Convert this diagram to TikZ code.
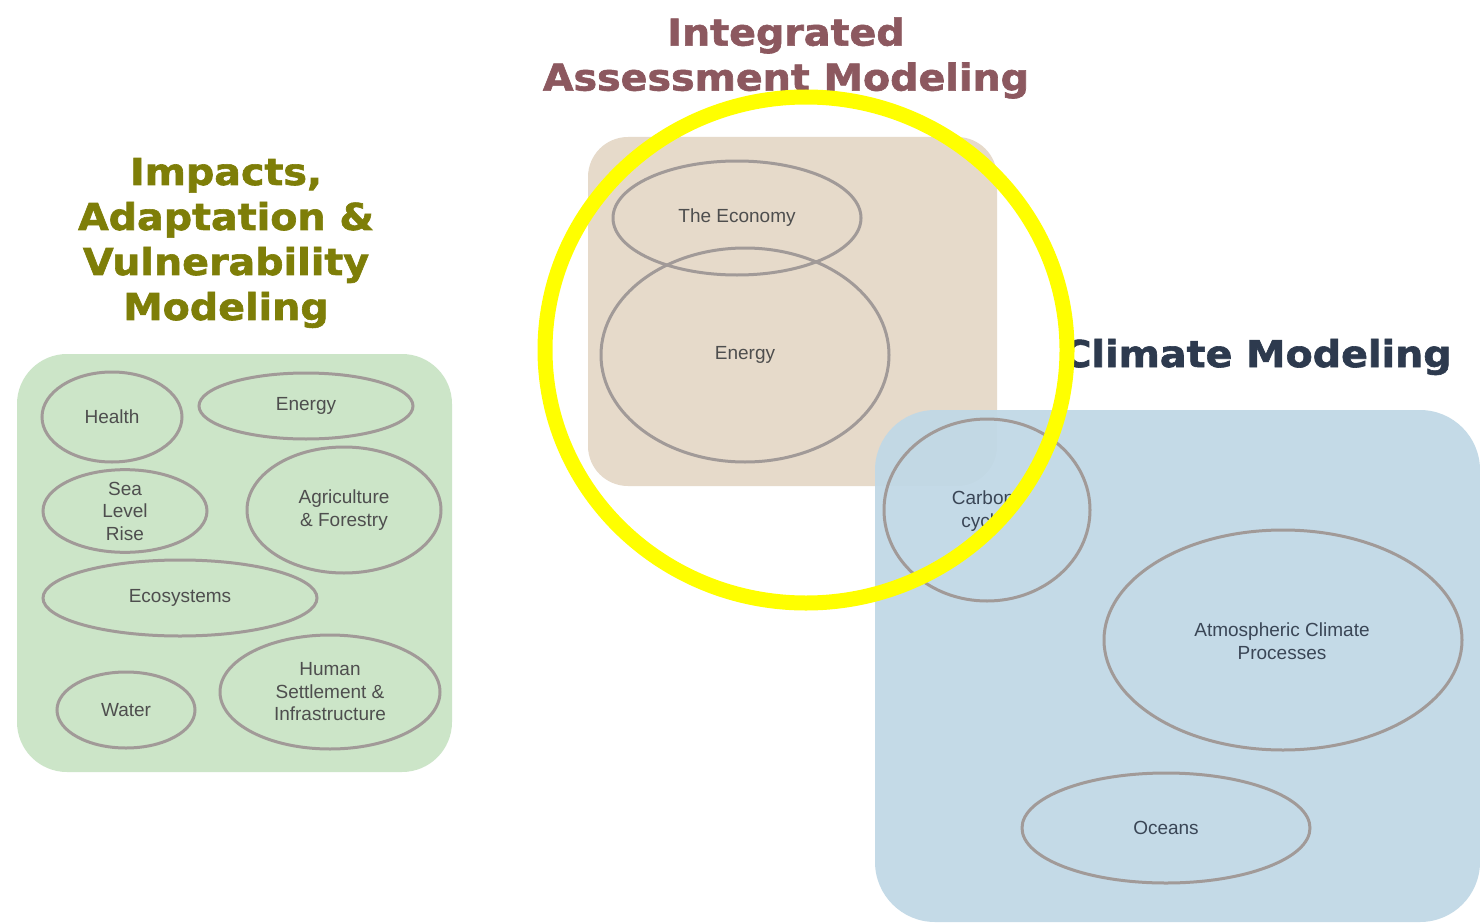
\documentclass[tikz,border=0pt]{standalone}
\usepackage{fontspec}
\setmainfont{Liberation Sans}
\newfontfamily\titlefont{DejaVu Sans}[BoldFeatures={FakeBold=1.6}]
\usetikzlibrary{shapes.geometric}
\definecolor{greenbox}{HTML}{CCE5C8}
\definecolor{tanbox}{HTML}{E6DACA}
\definecolor{bluebox}{HTML}{C0D8E6}
\definecolor{ringgray}{HTML}{A19A98}
\definecolor{txtgray}{HTML}{4E4E4E}
\definecolor{txtblue}{HTML}{3A4656}
\definecolor{ttlolive}{HTML}{7E7E08}
\definecolor{ttlrose}{HTML}{8C585F}
\definecolor{ttlnavy}{HTML}{2D3A4E}
\definecolor{hiyellow}{HTML}{FFFF00}
\newcommand\tline[1]{\scalebox{1.07}[1]{#1}}
\tikzset{
  item/.style={ellipse, draw=ringgray, line width=3pt, inner sep=0pt,
    align=center, text=txtgray, font=\fontsize{19}{22.5}\selectfont},
  bitem/.style={item, text=txtblue},
  btext/.style={align=center, text=txtblue, font=\fontsize{19}{22.5}\selectfont},
  title/.style={align=center, inner sep=0pt,
    font=\titlefont\bfseries\fontsize{37}{45}\selectfont},
}
\begin{document}
\begin{tikzpicture}[x=1pt,y=-1pt]
\useasboundingbox (0,0) rectangle (1480,923);
\fill[white] (0,0) rectangle (1480,923);
% boxes
\fill[greenbox, rounded corners=50pt] (17,354) rectangle (452,772);
\fill[tanbox, rounded corners=40pt] (588,137) rectangle (997,486);
% green items
\node[item, minimum width=140pt, minimum height=90pt] (health) at (112,417) {Health};
\node[item, minimum width=214pt, minimum height=66pt] (energyg) at (306,406) {Energy};
\node[item, minimum width=164pt, minimum height=76pt] (sea) at (125,511) {Sea\\Level\\Rise};
\node[item, minimum width=194pt, minimum height=126pt] (agri) at (344,510) {Agriculture\\\& Forestry};
\node[item, minimum width=274pt, minimum height=76pt] (eco) at (180,598) {Ecosystems};
\node[item, minimum width=138pt, minimum height=76pt] (water) at (126,710) {Water};
\node[item, minimum width=220pt, minimum height=114pt] (human) at (330,692) {Human\\Settlement \&\\Infrastructure};
% tan items
\node[item, minimum width=248pt, minimum height=114pt] (econ) at (737,218) {The Economy};
\node[item, minimum width=288pt, minimum height=214pt] (energyt) at (745,355) {Energy};
% blue box
\fill[bluebox, fill opacity=0.93, rounded corners=60pt] (875,410) rectangle (1480,922);
\node[bitem, minimum width=206pt, minimum height=182pt] (carbon) at (987,510) {};
\node[btext] (carbontxt) at (983,511) {Carbon\\cycle};
\node[bitem, minimum width=358pt, minimum height=220pt] (atmo) at (1283,640) {};
\node[btext] (atmotxt) at (1282,641) {Atmospheric Climate\\Processes};
\node[bitem, minimum width=288pt, minimum height=110pt] (oceans) at (1166,828) {Oceans};
% titles
\node[title, text=ttlolive] (iav) at (226,243) {\tline{Impacts,}\\\tline{Adaptation \&}\\\tline{Vulnerability}\\\tline{Modeling}};
\node[title, text=ttlrose] (iam) at (786,58) {\tline{Integrated}\\\tline{Assessment Modeling}};
\node[title, text=ttlnavy] (cm) at (1257,357) {\tline{Climate Modeling}};
% highlight ring
\draw[hiyellow, line width=15pt] (806,350) ellipse [x radius=261pt, y radius=253pt];
\end{tikzpicture}
\end{document}
